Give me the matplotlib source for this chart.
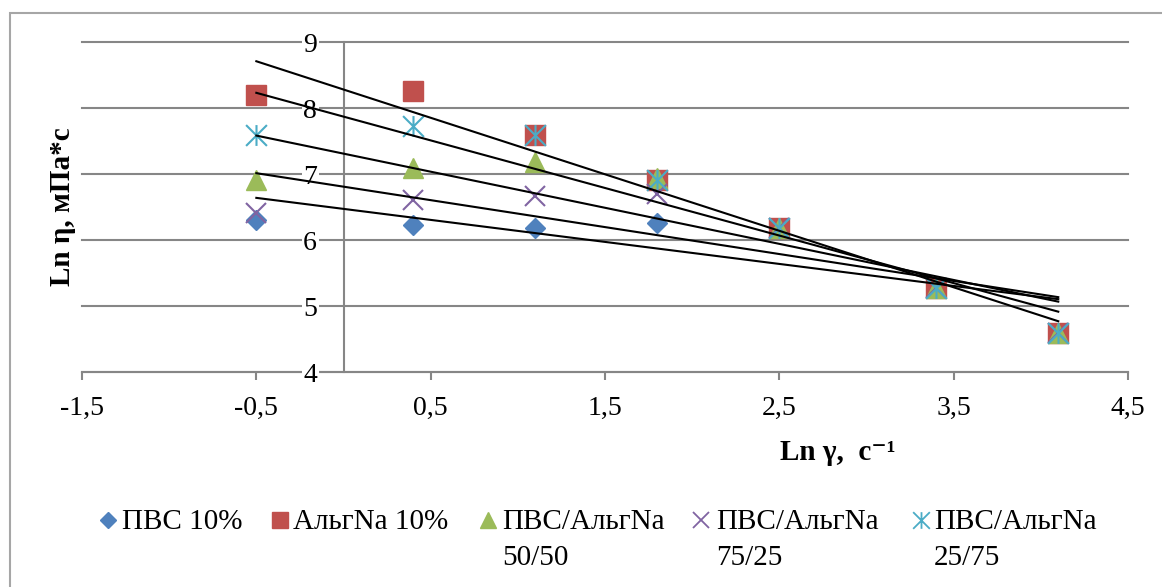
import numpy as np
import matplotlib
matplotlib.use("Agg")
import matplotlib.pyplot as plt
from matplotlib.path import Path
from matplotlib.lines import Line2D
from matplotlib.patches import Rectangle

plt.rcParams['font.family'] = ['Liberation Serif', 'DejaVu Serif']

# ln of shear rate
ln_rate = [-0.5, 0.4, 1.1, 1.8, 2.5, 3.4, 4.1]

# ln of viscosity for each sample
pvs_10 = [6.30, 6.23, 6.18, 6.26, 6.18, 5.29, 4.59]
alg_10 = [8.20, 8.26, 7.59, 6.91, 6.18, 5.27, 4.59]
mix_50_50 = [6.91, 7.09, 7.18, 6.94, 6.18, 5.27, 4.59]
mix_75_25 = [6.41, 6.61, 6.67, 6.70, 6.18, 5.27, 4.59]
mix_25_75 = [7.59, 7.73, 7.59, 6.91, 6.18, 5.27, 4.59]

series_labels = ["ПВС 10%", "АльгNa 10%", "ПВС/АльгNa\n50/50",
                 "ПВС/АльгNa\n75/25", "ПВС/АльгNa\n25/75"]
x_ticks = [-1.5, -0.5, 0.5, 1.5, 2.5, 3.5, 4.5]
x_tick_labels = ["-1,5", "-0,5", "0,5", "1,5", "2,5", "3,5", "4,5"]
y_ticks = [4, 5, 6, 7, 8, 9]
y_tick_labels = ["4", "5", "6", "7", "8", "9"]

# asterisk marker: vertical stroke plus two diagonals
star = Path([(0, -1), (0, 1), (-1, -1), (1, 1), (-1, 1), (1, -1)],
            [Path.MOVETO, Path.LINETO, Path.MOVETO, Path.LINETO,
             Path.MOVETO, Path.LINETO])

colors = ['#4F81BD', '#C0504D', '#9BBB59', '#8064A2', '#4BACC6']
styles = [
    dict(marker='D', ms=10.5, mfc=colors[0], mec=colors[0]),
    dict(marker='s', ms=14.5, mfc=colors[1], mec=colors[1]),
    dict(marker='^', ms=15, mfc=colors[2], mec=colors[2]),
    dict(marker='x', ms=14, mec=colors[3], mew=1.5),
    dict(marker=star, ms=15, mfc='none', mec=colors[4], mew=1.5),
]
legend_styles = [
    dict(marker='D', ms=8.5, mfc=colors[0], mec=colors[0]),
    dict(marker='s', ms=11.5, mfc=colors[1], mec=colors[1]),
    dict(marker='^', ms=12, mfc=colors[2], mec=colors[2]),
    dict(marker='x', ms=11, mec=colors[3], mew=1.3),
    dict(marker=star, ms=12, mfc='none', mec=colors[4], mew=1.3),
]

W, H = 1162, 587
fig = plt.figure(figsize=(W / 100, H / 100), dpi=100)
ax = fig.add_axes([82 / W, 1 - 372 / H, (1128 - 82) / W, (372 - 42) / H])

grey = '#868686'
all_series = [pvs_10, alg_10, mix_50_50, mix_75_25, mix_25_75]
x = np.array(ln_rate)
for ys, st in zip(all_series, styles):
    ax.plot(x, ys, ls='none', zorder=4, clip_on=False, **st)

# linear trend for each series
for ys in all_series:
    k, b = np.polyfit(x, np.array(ys), 1)
    xx = np.array([x[0], x[-1]])
    ax.plot(xx, k * xx + b, color='black', lw=1.5, zorder=5)

ax.set_xlim(-1.5, 4.5)
ax.set_ylim(4, 9)
ax.set_xticks(x_ticks, x_tick_labels)
ax.set_yticks(y_ticks, y_tick_labels)

for s in ['top', 'right']:
    ax.spines[s].set_visible(False)
ax.spines['left'].set_position(('data', 0))
for s in ['left', 'bottom']:
    ax.spines[s].set_color(grey)
    ax.spines[s].set_linewidth(1.5)

ax.yaxis.grid(True, color=grey, lw=1.5)
ax.tick_params(axis='x', direction='out', length=6, width=1.5, color=grey,
               pad=11, labelsize=20)
ax.tick_params(axis='y', length=0, pad=19, labelsize=20)
for gl in ax.yaxis.get_gridlines():
    gl.set_clip_on(False)
for t in ax.get_yticklabels():
    t.set_bbox(dict(facecolor='white', edgecolor='none', pad=1))
ax.yaxis.set_zorder(3)

ax.set_ylabel("Ln η, мПа*с", fontsize=21, fontweight='bold')
ax.yaxis.set_label_coords(-0.019, 0.5)
ax.yaxis.label.set_va('center')
ax.set_xlabel("Ln γ,  c⁻¹", fontsize=21, fontweight='bold')
ax.xaxis.set_label_coords((838 - 82) / 1046, (372 - 452) / 330)
ax.xaxis.label.set_va('center')

# legend row
marker_x = [108, 280, 488, 701, 921]
text_x = [122, 293, 502, 716, 934]
for mx, tx, lab, st in zip(marker_x, text_x, series_labels, legend_styles):
    fig.add_artist(Line2D([mx / W], [1 - 520 / H], transform=fig.transFigure,
                          ls='none', **st))
    fig.text(tx / W, 1 - 509 / H, lab, fontsize=21, ha='left', va='top',
             linespacing=1.5)

# chart frame
fig.add_artist(Rectangle((10 / W, -0.1), 1.2, 1.1 - 12.5 / H,
                         transform=fig.transFigure, fill=False,
                         edgecolor='#a6a6a6', lw=1.5, clip_on=False))

fig.savefig("out.png", dpi=100)
